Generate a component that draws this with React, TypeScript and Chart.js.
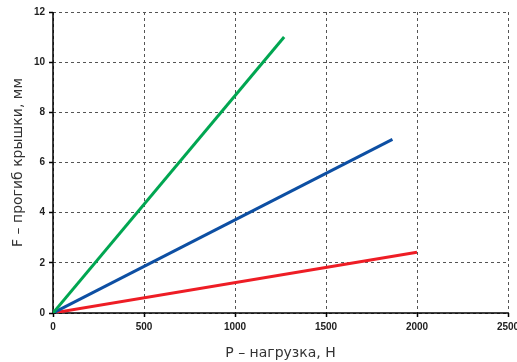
import React, { useEffect, useRef } from "react";
import { Chart, registerables } from "chart.js";

Chart.register(...registerables);

const greenX = [0, 1270];
const greenY = [0, 11.0];
const blueX = [0, 1865];
const blueY = [0, 6.92];
const redX = [0, 2000];
const redY = [0, 2.42];
const xTitle = "P – нагрузка, Н";
const yTitle = "F – прогиб крышки, мм";

const pts = (xs: number[], ys: number[]) => xs.map((x, i) => ({ x, y: ys[i] }));

const solidAxes = {
  id: "solidAxes",
  beforeDatasetsDraw(chart: any) {
    const { ctx, chartArea } = chart;
    ctx.save();
    ctx.setLineDash([]);
    ctx.strokeStyle = "#000";
    ctx.lineWidth = 1.5;
    ctx.beginPath();
    ctx.moveTo(chartArea.left, chartArea.top);
    ctx.lineTo(chartArea.left, chartArea.bottom);
    ctx.lineTo(chartArea.right, chartArea.bottom);
    ctx.stroke();
    ctx.restore();
  },
};

export default function App() {
  const ref = useRef<HTMLCanvasElement>(null);
  useEffect(() => {
    if (!ref.current) return;
    const font = "'DejaVu Sans', sans-serif";
    const tickFont = { family: "'Liberation Sans', Arial, sans-serif", size: 10, weight: "bold" };
    const gridOpts = { color: "#555", lineWidth: 1, tickLength: 4, tickColor: "#000", tickWidth: 1.5, tickBorderDash: [], tickBorderDashOffset: 0 };
    const chart = new Chart(ref.current, {
      type: "scatter",
      data: {
        datasets: [
          { data: pts(greenX, greenY), borderColor: "#00a651", showLine: true, borderWidth: 3, pointRadius: 0 },
          { data: pts(blueX, blueY), borderColor: "#0d4fa3", showLine: true, borderWidth: 3, pointRadius: 0 },
          { data: pts(redX, redY), borderColor: "#ee1d25", showLine: true, borderWidth: 3, pointRadius: 0 },
        ],
      },
      options: {
        animation: false,
        responsive: false,
        layout: { padding: { top: 12, right: 9, left: 0, bottom: 0 } },
        plugins: { legend: { display: false }, tooltip: { enabled: false } },
        scales: {
          x: {
            type: "linear",
            min: 0,
            max: 2500,
            ticks: { stepSize: 500, color: "#222", font: tickFont, padding: 4, maxRotation: 0, format: { useGrouping: false } },
            grid: gridOpts,
            border: { display: false, dash: [3, 3] },
            title: { display: true, text: xTitle, color: "#333", font: { family: font, size: 14 }, padding: { top: 8, bottom: 0 } },
            afterFit: (s: any) => { s.height = 49; s.paddingRight = 0; s.paddingLeft = 0; },
          },
          y: {
            type: "linear",
            min: 0,
            max: 12,
            ticks: { stepSize: 2, color: "#222", font: tickFont, padding: 4 },
            grid: gridOpts,
            border: { display: false, dash: [3, 3] },
            title: { display: true, text: yTitle, color: "#333", font: { family: font, size: 14 }, padding: { top: 10, bottom: 4 } },
            afterFit: (s: any) => { s.width = 53; s.paddingTop = 0; s.paddingBottom = 0; },
          },
        },
      } as any,
      plugins: [solidAxes],
    });
    return () => chart.destroy();
  }, []);
  return (
    <div style={{ position: "fixed", left: 0, top: 0, width: 517, height: 362, background: "#fff" }}>
      <canvas ref={ref} width={517} height={362} />
    </div>
  );
}
